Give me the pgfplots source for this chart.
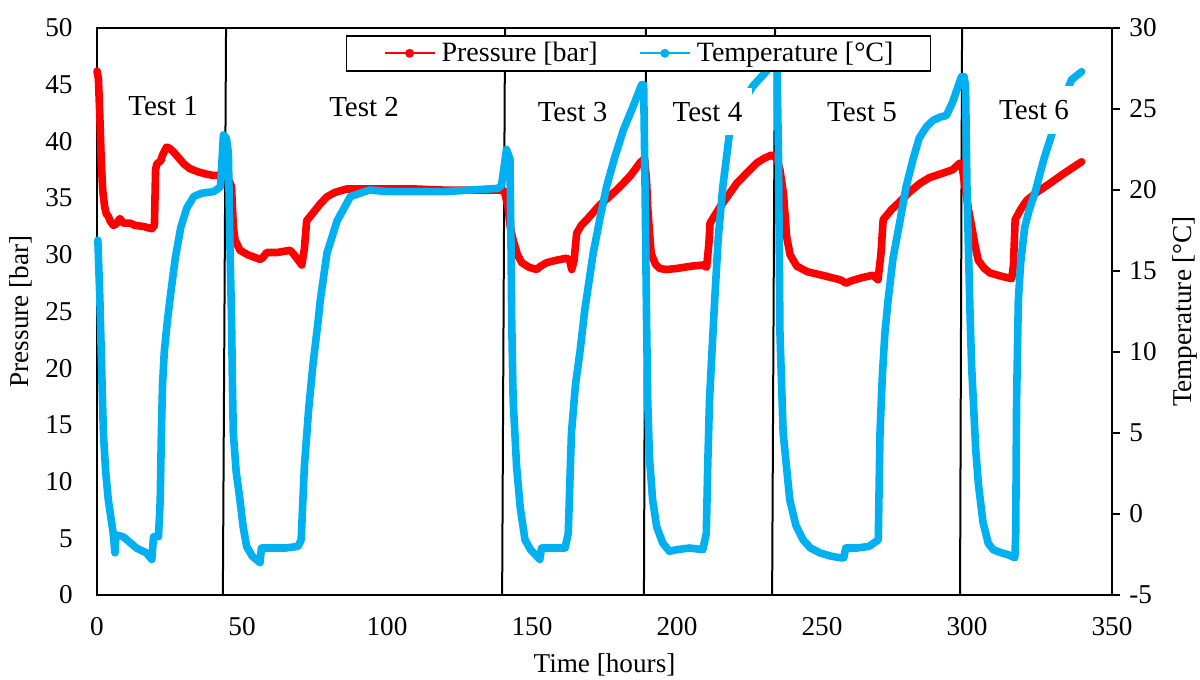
\documentclass[border=0pt]{standalone}
\usepackage{fontspec}
\setmainfont{Liberation Serif}
\usepackage{pgfplots}
\pgfplotsset{compat=1.18}
\definecolor{pred}{RGB}{255,0,0}
\definecolor{tblue}{RGB}{0,176,240}

\begin{document}
\begin{tikzpicture}
\begin{axis}[
  scale only axis, width=507.5pt, height=283.5pt,
  xmin=0, xmax=350, ymin=0, ymax=50,
  xtick={0,50,...,350}, ytick={0,5,...,50},
  xtick pos=bottom, ytick pos=left,
  major tick length=0pt,
  axis line style={line width=0.8pt, black},
  tick label style={font=\fontsize{13.6}{15}\selectfont},
  /pgf/number format/assume math mode=true,
  yticklabel style={anchor=east, inner sep=0pt, xshift=-12pt},
  xticklabel style={anchor=north, inner sep=0pt, yshift=-11pt},
  xlabel={Time [hours]}, ylabel={Pressure [bar]},
  label style={font=\fontsize{13.6}{15}\selectfont},
  xlabel style={at={(axis description cs:0.5,-0.1235)}, anchor=center},
  ylabel style={at={(axis description cs:-0.0749,0.5)}, anchor=center},
  clip=false,
]
% test dividers
\addplot[black, line width=1pt, forget plot] coordinates {(44.5,50) (43.4,0)};
\addplot[black, line width=1pt, forget plot] coordinates {(140.7,50) (139.7,0)};
\addplot[black, line width=1pt, forget plot] coordinates {(189.3,50) (188.6,0)};
\addplot[black, line width=1pt, forget plot] coordinates {(233.8,50) (232.8,0)};
\addplot[black, line width=1pt, forget plot] coordinates {(298.3,50) (297.6,0)};
% pressure
\addplot[pred, line width=3.8pt, line join=round, line cap=round, forget plot] table {
t P
0 46.2
0.5 45.5
1.0 42.0
1.5 38.0
2.0 35.6
2.6 34.3
3.2 33.6
3.9 33.4
4.5 33.0
5.6 32.6
6.5 32.7
7.9 33.2
9.0 32.8
11.4 32.8
13.0 32.6
16.0 32.5
18.9 32.3
19.8 32.6
20.2 37.5
20.6 38.0
22.0 38.3
22.6 38.8
24.0 39.5
25.0 39.4
26.3 39.1
28.0 38.6
30.0 38.0
32.0 37.6
35.0 37.3
38.0 37.1
40.1 37.0
41.8 37.0
43.5 37.2
45.5 36.6
46.4 36.0
47.0 32.5
47.6 31.3
49.3 30.4
52.0 30.0
56.2 29.6
57.0 29.7
58.5 30.2
62.0 30.2
66.6 30.4
68.0 30.0
70.6 29.1
71.5 30.5
72.3 33.0
74.5 33.7
77.0 34.5
79.2 35.1
82.0 35.5
86.0 35.8
90.0 35.8
100 35.8
110 35.8
120 35.7
130 35.7
139 35.7
140.5 35.6
141.7 34.2
142.5 32.5
143.5 31.3
145.0 30.0
146.5 29.3
149.0 28.9
151.6 28.7
153.0 29.0
155.0 29.3
158.0 29.5
161.9 29.7
163.0 29.5
163.7 28.7
164.5 29.5
165.4 31.9
167.0 32.6
168.9 33.1
173.4 34.4
177.0 35.2
180.3 36.0
184.0 37.0
187.2 38.1
188.8 38.5
189.5 36.5
189.9 34.2
190.5 32.0
191.1 30.1
192.5 29.2
194.0 28.8
196.3 28.7
200.0 28.8
205.0 29.0
209.0 29.1
210.2 28.9
211.0 31.0
211.4 32.8
214.8 34.2
217.0 35.0
220.6 36.3
224.0 37.2
227.5 38.1
230.0 38.5
232.6 38.8
234.5 38.5
235.5 37.5
236.7 35.4
237.8 31.6
239.0 30.0
241.3 29.0
245.0 28.5
250.0 28.2
256.2 27.8
258.4 27.5
260.0 27.7
264.0 28.0
267.6 28.2
269.3 27.8
270.3 30.0
271.1 33.1
274.0 34.0
276.9 34.7
280.0 35.5
283.8 36.3
287.0 36.8
291.7 37.2
295.0 37.5
297.6 38.1
298.5 37.5
299.3 36.0
300.5 34.0
301.6 32.5
302.8 30.8
303.9 29.5
306.0 28.8
307.9 28.4
312.0 28.1
315.4 27.9
316.0 29.0
316.6 33.1
318.5 34.0
320.6 34.8
324.0 35.5
328.6 36.3
333.0 37.1
338.3 38.0
339.5 38.2
};
\end{axis}

\begin{axis}[
  scale only axis, width=507.5pt, height=283.5pt,
  xmin=0, xmax=350, ymin=-5, ymax=30,
  axis x line=none, axis y line*=right,
  ytick={-5,0,...,30},
  tick align=outside, major tick length=4pt,
  every tick/.style={black, line width=0.8pt},
  axis line style={line width=0.8pt, black},
  tick label style={font=\fontsize{13.6}{15}\selectfont},
  /pgf/number format/assume math mode=true,
  yticklabel style={anchor=west, inner sep=0pt, xshift=4.5pt},
  ylabel={Temperature [°C]},
  label style={font=\fontsize{13.6}{15}\selectfont},
  ylabel style={at={(axis description cs:1.0719,0.5)}, anchor=center},
  clip=false,
  legend columns=2,
  legend cell align=left,
  legend image code/.code={\draw[#1] (0pt,0pt) -- (25pt,0pt); \fill[#1] (12.5pt,0pt) circle[radius=1.7pt];},
  legend style={at={(axis description cs:0.245,0.988)}, anchor=north west,
    draw=black, line width=0.9pt, fill=white,
    font=\fontsize{14}{16}\selectfont,
    inner xsep=18.5pt, inner ysep=3.2pt,
    nodes={inner sep=0pt},
    /tikz/every odd column/.append style={column sep=3pt},
    /tikz/every even column/.append style={column sep=20.5pt}},
]
\addlegendimage{pred, line width=1pt}
\addlegendentry{Pressure [bar]}
\addlegendimage{tblue, line width=1pt}
\addlegendentry{Temperature [°C]}
\addplot[tblue, line width=3.8pt, line join=round, line cap=round, forget plot] table {
t T
0.3 16.9
1.0 13.2
1.6 9.0
2.2 5.0
3.0 2.6
3.9 0.86
5.6 -1.2
6.2 -2.4
6.5 -1.3
9.0 -1.4
13.6 -2.1
17.0 -2.4
18.9 -2.8
19.5 -1.4
21.2 -1.4
21.8 0.86
22.2 5.0
22.6 8.0
23.2 10.0
24.2 11.8
25.4 13.6
27.0 15.8
28.9 17.7
31.0 18.9
33.4 19.6
36.0 19.8
40.3 19.9
42.6 20.2
43.6 23.4
44.6 23.2
45.3 22.3
45.9 16.1
46.4 12.0
46.7 8.0
47.0 5.0
48.0 2.6
49.3 0.86
50.4 -0.8
51.6 -2.0
53.5 -2.6
56.2 -3.0
56.7 -2.1
60.0 -2.1
65.0 -2.1
69.3 -2.0
70.4 -1.6
71.5 2.9
73.0 6.5
74.4 9.1
76.3 12.0
77.0 13.2
79.3 16.1
82.8 18.1
87.4 19.6
94.0 20.0
100 19.9
120 19.9
138.3 20.1
139.5 20.3
141.2 22.5
142.4 21.9
142.8 16.0
143.0 12.0
143.5 7.0
144.7 2.9
146.0 0.3
147.6 -1.6
149.5 -2.2
151.6 -2.6
152.7 -2.8
153.3 -2.1
158.0 -2.1
161.4 -2.1
162.5 -1.2
163.6 5.0
165.0 8.0
166.6 10.1
168.2 12.6
171.1 16.1
173.5 18.3
175.7 20.2
178.5 22.0
181.5 23.7
184.5 25.0
187.8 26.5
188.5 26.5
189.0 20.0
189.5 12.0
189.9 7.0
190.5 3.5
191.6 0.86
193.0 -0.8
195.1 -1.8
197.4 -2.3
200.0 -2.2
204.3 -2.1
208.9 -2.2
210.1 -1.2
210.6 3.0
211.2 7.0
212.2 10.5
213.0 13.2
214.2 17.0
215.8 20.2
218.1 23.5
222.0 25.2
226.1 26.4
230.7 27.3
233.5 28.0
234.5 27.5
235.0 22.0
235.5 11.2
236.6 5.0
238.9 0.86
241.0 -0.7
243.5 -1.6
246.0 -2.1
249.3 -2.4
253.0 -2.6
256.2 -2.7
257.5 -2.7
258.2 -2.1
262.0 -2.1
266.2 -2.0
269.4 -1.6
270.0 5.0
270.8 8.5
271.7 11.2
272.8 13.2
274.5 15.8
276.9 18.1
279.0 20.2
281.4 21.9
283.5 23.2
286.0 23.9
288.3 24.3
290.7 24.5
292.9 24.6
295.0 25.4
298.1 27.0
299.0 27.0
299.5 26.4
300.0 20.0
301.1 12.0
301.6 9.1
303.0 4.0
303.9 1.9
305.5 -0.5
307.3 -1.8
309.0 -2.2
311.9 -2.4
314.0 -2.5
316.5 -2.7
316.8 -1.2
317.1 7.0
317.7 13.2
318.5 15.5
319.9 17.7
321.5 18.8
323.4 19.8
326.5 21.9
329.7 23.7
333.0 25.4
336.0 26.8
339.5 27.3
};
\begin{scope}[every node/.style={fill=white, inner xsep=5pt, inner ysep=7pt, font=\fontsize{14.5}{16}\selectfont}]
\node at (axis cs:22.8,25.19) {Test 1};
\node at (axis cs:92.1,25.09) {Test 2};
\node at (axis cs:164.0,24.83) {Test 3};
\node at (axis cs:210.5,24.83) {Test 4};
\node at (axis cs:263.8,24.83) {Test 5};
\node at (axis cs:323.1,24.94) {Test 6};
\end{scope}
\end{axis}
\pgfresetboundingbox
\path[use as bounding box] ([xshift=-48.5pt, yshift=-42.5pt]current axis.south west) rectangle ([xshift=44pt, yshift=14pt]current axis.north east);
\end{tikzpicture}
\end{document}
